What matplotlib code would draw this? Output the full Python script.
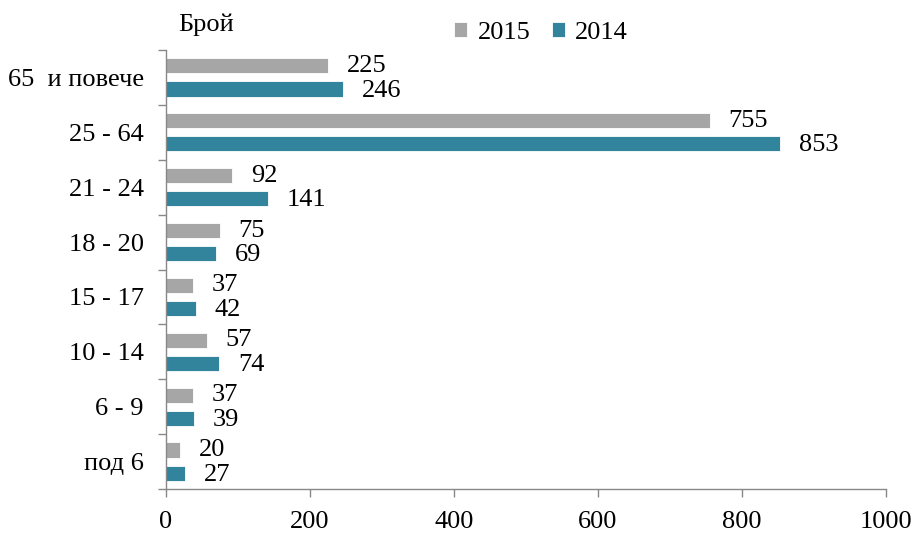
import matplotlib
matplotlib.use("Agg")
import matplotlib.pyplot as plt
import numpy as np

plt.rcParams['font.family'] = ['Liberation Serif', 'DejaVu Serif']

categories = ["под 6", "6 - 9", "10 - 14", "15 - 17", "18 - 20", "21 - 24", "25 - 64", "65  и повече"]
values_2015 = [20, 37, 57, 37, 75, 92, 755, 225]
values_2014 = [27, 39, 74, 42, 69, 141, 853, 246]
series_labels = ["2015", "2014"]
xticks = [0, 200, 400, 600, 800, 1000]

c2015 = "#A6A6A6"
c2014 = "#31849B"
axis_col = "#888888"
fs = 19

fig = plt.figure(figsize=(9.16, 5.36), dpi=100)
ax = fig.add_axes([166/916, 1-489/536, 720/916, 439/536])

y = np.arange(len(categories))
off = 0.21
h = 0.275
b1 = ax.barh(y + off, values_2015, height=h, color=c2015, edgecolor="white", linewidth=0.6, label=series_labels[0])
b2 = ax.barh(y - off, values_2014, height=h, color=c2014, edgecolor="white", linewidth=0.6, label=series_labels[1])

for yi, v in zip(y, values_2015):
    ax.text(v + 26, yi + off + 0.0, str(v), va="center", ha="left", fontsize=fs)
for yi, v in zip(y, values_2014):
    ax.text(v + 26, yi - off - 0.03, str(v), va="center", ha="left", fontsize=fs)

ax.set_xlim(0, 1000)
ax.set_ylim(-0.5, len(categories) - 0.5)
ax.set_xticks(xticks)
ax.set_xticklabels([str(t) for t in xticks], fontsize=fs)
ax.set_yticks(y)
ax.set_yticklabels(categories, fontsize=fs)
ax.set_yticks(np.arange(-0.5, len(categories), 1), minor=True)
ax.tick_params(axis='y', which='major', length=0, pad=16)
ax.tick_params(axis='y', which='minor', length=6, color=axis_col, width=1)
ax.tick_params(axis='x', which='major', length=6, color=axis_col, width=1, pad=10)

for s in ["top", "right"]:
    ax.spines[s].set_visible(False)
for s in ["left", "bottom"]:
    ax.spines[s].set_color(axis_col)
    ax.spines[s].set_linewidth(1)

fig.text(178/916, 1-25/536, "Брой", fontsize=fs, va="center", ha="left")

leg = fig.legend(handles=[b1, b2], labels=series_labels, loc="center", bbox_to_anchor=(541/916, 1-33/536),
                 ncol=2, frameon=False, fontsize=fs, handlelength=0.5, handleheight=0.5,
                 handletextpad=0.4, columnspacing=0.8)

fig.savefig("out.png", dpi=100)
